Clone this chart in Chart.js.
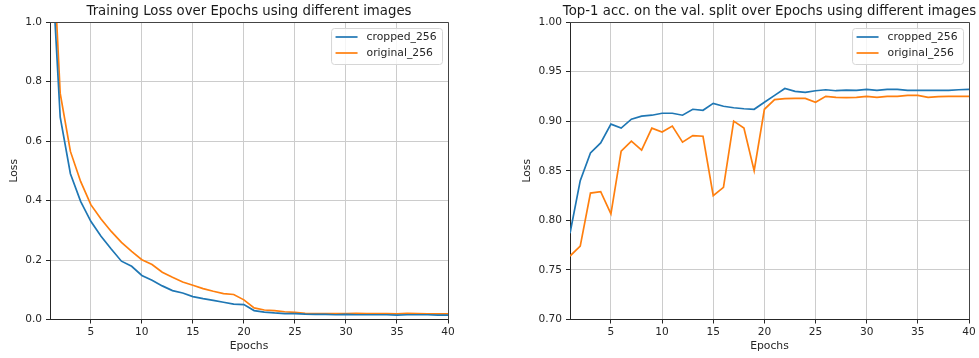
<!DOCTYPE html>
<html><head><meta charset="utf-8">
<script src="https://cdn.jsdelivr.net/npm/chart.js@4.4.1/dist/chart.umd.min.js"></script>
<style>
html,body{margin:0;padding:0;background:#fff;width:979px;height:358px;overflow:hidden}
.box{position:absolute;top:0;height:358px}
#c1{left:0;width:500px}
#c2{left:500px;width:479px}
</style></head><body>
<div class="box" id="c1"><canvas id="a"></canvas></div>
<div class="box" id="c2"><canvas id="b"></canvas></div>
<script>
const epochs = [1,2,3,4,5,6,7,8,9,10,11,12,13,14,15,16,17,18,19,20,21,22,23,24,25,26,27,28,29,30,31,32,33,34,35,36,37,38,39,40];
const xTickValues = [5,10,15,20,25,30,35,40];
const lossTickValues = [0.0,0.2,0.4,0.6,0.8,1.0];
const accTickValues = [0.70,0.75,0.80,0.85,0.90,0.95,1.00];
const seriesNames = ['cropped_256','original_256'];
const lossTitle = 'Training Loss over Epochs using different images';
const accTitle = 'Top-1 acc. on the val. split over Epochs using different images';
const xLabel = 'Epochs';
const yLabel = 'Loss';

const lossCropped = [1.31,0.68,0.49,0.397,0.33,0.28,0.237,0.196,0.179,0.148,0.132,0.113,0.097,0.089,0.077,0.070,0.064,0.058,0.052,0.050,0.030,0.025,0.022,0.020,0.020,0.018,0.017,0.017,0.016,0.017,0.016,0.016,0.016,0.016,0.015,0.016,0.016,0.016,0.015,0.015];
const lossOriginal = [1.46,0.76,0.565,0.464,0.386,0.338,0.296,0.259,0.229,0.201,0.185,0.159,0.142,0.126,0.115,0.104,0.095,0.087,0.084,0.066,0.039,0.032,0.030,0.026,0.024,0.021,0.020,0.020,0.020,0.020,0.021,0.020,0.020,0.020,0.019,0.021,0.020,0.019,0.019,0.019];
const accCropped = [0.787,0.840,0.868,0.878,0.897,0.893,0.902,0.905,0.906,0.908,0.908,0.906,0.912,0.911,0.918,0.915,0.9135,0.9125,0.912,0.919,0.926,0.933,0.930,0.929,0.9307,0.9317,0.9307,0.9313,0.931,0.932,0.931,0.932,0.932,0.931,0.931,0.931,0.931,0.931,0.9317,0.932];
const accOriginal = [0.764,0.774,0.8275,0.829,0.8066,0.8697,0.8798,0.8707,0.893,0.889,0.895,0.8788,0.8855,0.8848,0.8248,0.8333,0.900,0.893,0.850,0.912,0.9217,0.9227,0.923,0.923,0.919,0.925,0.924,0.9237,0.924,0.925,0.924,0.925,0.925,0.926,0.926,0.924,0.9247,0.925,0.925,0.925];

const COLORS = ['#1f77b4','#ff7f0e'];
const FONT = '"DejaVu Sans", sans-serif';
const TXT = '#262626';

const decor = {
  id: 'decor',
  afterDraw(chart, args, opts) {
    const {ctx, chartArea: a} = chart;
    ctx.save();
    ctx.strokeStyle = '#444'; ctx.lineWidth = 1;
    ctx.beginPath();
    ctx.moveTo(a.left, Math.round(a.top) + 0.5);
    ctx.lineTo(Math.round(a.right) + 0.5, Math.round(a.top) + 0.5);
    ctx.lineTo(Math.round(a.right) + 0.5, a.bottom);
    ctx.stroke();
    ctx.font = '13.3px ' + FONT; ctx.fillStyle = '#1a1a1a';
    ctx.textAlign = 'center'; ctx.textBaseline = 'alphabetic';
    ctx.fillText(opts.text, (a.left + a.right) / 2, a.top - 7);
    ctx.font = '10.8px ' + FONT;
    const ds = chart.data.datasets;
    let maxW = 0;
    ds.forEach(d => { maxW = Math.max(maxW, ctx.measureText(d.label).width); });
    const w = 35 + maxW + 6, h = 36;
    const right = a.right - 5.5, top = a.top + 6.5, left = right - w;
    ctx.beginPath();
    ctx.roundRect(left, top, w, h, 3);
    ctx.fillStyle = 'rgba(255,255,255,0.8)'; ctx.fill();
    ctx.strokeStyle = '#d6d6d6'; ctx.lineWidth = 1; ctx.stroke();
    ds.forEach((d, i) => {
      const y = top + 8.5 + i * 16;
      ctx.strokeStyle = d.borderColor; ctx.lineWidth = 1.7;
      ctx.beginPath(); ctx.moveTo(left + 4, y); ctx.lineTo(left + 26, y); ctx.stroke();
      ctx.fillStyle = TXT; ctx.textAlign = 'left'; ctx.textBaseline = 'middle';
      ctx.fillText(d.label, left + 35, y);
    });
    ctx.restore();
  }
};

function makeChart(id, s1, s2, yMin, yMax, yTicks, dec, title, padRight, yWidth, yTitlePad) {
  const mk = (vals) => vals.map((v, i) => ({x: epochs[i], y: v}));
  return new Chart(document.getElementById(id), {
    type: 'line',
    data: {
      datasets: [
        {label: seriesNames[0], data: mk(s1), borderColor: COLORS[0], backgroundColor: COLORS[0]},
        {label: seriesNames[1], data: mk(s2), borderColor: COLORS[1], backgroundColor: COLORS[1]}
      ]
    },
    options: {
      responsive: true, maintainAspectRatio: false, animation: false,
      layout: {padding: {left: 0, right: padRight, top: 22, bottom: 0}},
      elements: {point: {radius: 0}, line: {borderWidth: 1.7, tension: 0}},
      plugins: {legend: {display: false}, tooltip: {enabled: false}, decor: {text: title}},
      scales: {
        x: {
          type: 'linear', min: 1, max: 40,
          afterBuildTicks: s => { s.ticks = xTickValues.map(v => ({value: v})); },
          afterFit: s => { s.height = 38.5; },
          ticks: {font: {family: FONT, size: 10.6}, color: TXT, padding: 2, maxRotation: 0, autoSkip: false, callback: v => String(v)},
          grid: {color: '#cccccc', lineWidth: 1, tickLength: 4, tickColor: TXT},
          border: {color: TXT, width: 1},
          title: {display: true, text: xLabel, font: {family: FONT, size: 10.8}, color: TXT, padding: {top: 0, bottom: 5}}
        },
        y: {
          type: 'linear', min: yMin, max: yMax,
          afterBuildTicks: s => { s.ticks = yTicks.map(v => ({value: v})); },
          afterFit: s => { s.width = yWidth; },
          ticks: {font: {family: FONT, size: 10.6}, color: TXT, padding: 4, callback: v => Number(v).toFixed(dec)},
          grid: {color: '#cccccc', lineWidth: 1, tickLength: 4, tickColor: TXT},
          border: {color: TXT, width: 1},
          title: {display: true, text: yLabel, font: {family: FONT, size: 10.8}, color: TXT, padding: {top: yTitlePad, bottom: 0}}
        }
      }
    },
    plugins: [decor]
  });
}

makeChart('a', lossCropped, lossOriginal, 0, 1.0, lossTickValues, 1, lossTitle, 52, 50, 7.5);
makeChart('b', accCropped, accOriginal, 0.70, 1.00, accTickValues, 2, accTitle, 10, 70, 20.5);
</script>
</body></html>
